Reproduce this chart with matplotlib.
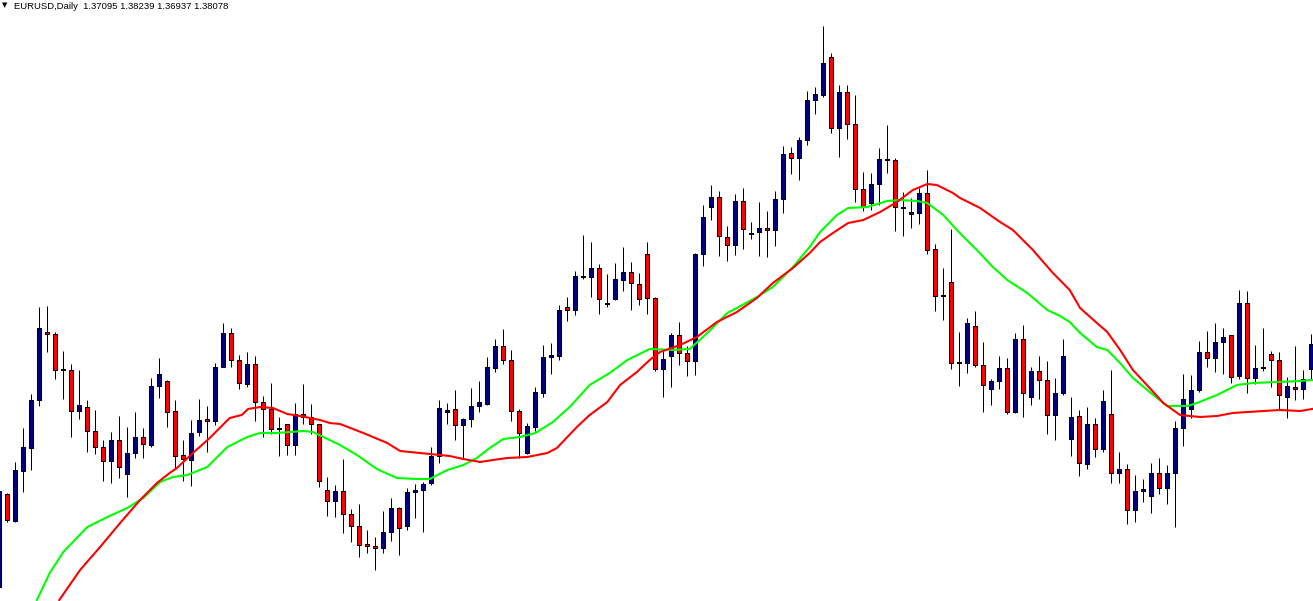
import numpy as np
import matplotlib
matplotlib.use("Agg")
import matplotlib.pyplot as plt

# daily candles, values (height units above the bottom edge)
opens = [14,107,80,130,153,201,269,267,231,231,190,194,170,154,140,161,127,148,164,156,
         215,220,190,146,141,169,182,180,234,268,241,217,237,199,192,172,177,156,187,184,
         177,111,100,110,87,75,57,55,53,69,93,75,109,111,118,145,189,192,176,182,
         195,197,233,255,241,190,148,174,208,244,245,294,291,324,324,333,297,302,321,329,
         317,347,303,232,245,266,248,240,347,394,404,364,356,400,367,369,373,371,402,448,
         443,461,501,506,544,473,509,477,412,398,417,441,441,393,387,388,408,352,305,319,
         238,238,275,236,212,220,233,189,262,204,230,221,186,208,162,185,137,177,152,187,
         128,132,91,110,105,128,113,128,173,192,211,249,243,259,266,225,298,223,233,247,
         241,204,214,212,232]
highs = [111,108,139,173,207,294,295,269,250,237,231,201,191,161,169,185,174,189,173,223,
         243,221,201,161,181,202,195,238,278,273,246,249,245,205,218,184,177,198,217,197,
         177,124,116,142,92,97,71,64,90,103,94,113,117,119,154,201,198,211,183,213,
         220,244,262,272,251,192,178,214,256,258,296,304,330,366,359,337,327,338,354,339,
         328,359,304,252,268,279,255,348,396,416,410,375,407,413,379,399,390,410,455,454,
         464,510,514,575,548,516,516,506,429,428,453,476,443,409,403,413,431,357,333,372,
         269,283,290,259,222,245,243,268,276,234,245,240,223,262,204,191,194,183,211,231,
         149,137,126,122,138,143,136,180,227,226,260,270,278,273,266,311,310,256,273,250,
         249,224,255,231,267]
lows = [14,79,79,109,131,195,249,222,202,164,182,149,147,120,118,123,104,143,143,154,
        203,174,132,120,115,165,149,176,234,234,212,214,180,164,167,145,146,146,177,167,
        114,85,84,68,59,44,48,31,48,60,46,71,83,69,116,138,177,161,142,174,
        189,196,229,237,180,143,147,170,204,227,241,280,286,322,304,287,294,301,310,291,
        296,287,230,204,214,236,225,226,335,381,345,340,346,352,362,345,344,355,388,427,
        421,456,487,504,468,444,462,399,390,391,396,428,370,365,373,377,347,290,281,232,
        215,228,234,189,196,212,187,188,184,196,202,167,161,206,145,125,132,144,149,118,
        118,77,79,99,88,107,97,74,155,183,209,234,229,227,218,222,208,217,230,214,
        192,183,201,202,222]
closes = [110,81,131,154,201,273,267,231,231,190,196,170,154,140,161,134,148,164,157,215,
          227,189,145,142,168,181,180,234,268,241,218,237,199,192,172,172,156,187,184,177,
          120,100,110,87,75,56,55,53,69,93,73,109,111,117,145,193,191,176,182,195,
          199,234,255,241,190,168,175,209,244,246,291,291,325,324,333,302,297,322,329,318,
          302,303,232,242,266,248,240,347,384,404,365,356,400,372,367,373,371,402,447,443,
          461,501,507,538,473,509,477,412,394,417,442,441,394,393,389,408,351,305,305,238,
          238,278,236,216,220,233,189,262,208,230,221,186,208,245,184,138,177,152,200,128,
          132,91,110,112,128,113,128,173,202,211,249,243,259,264,224,298,223,233,233,241,
          206,215,212,222,257]

# fast MA (green), read at bar positions
fast_bar = [4.7,6.3,8.0,11.0,13.5,16.0,18.0,20.1,21.7,23.5,26.0,28.5,31.0,32.6,34.7,38.0,39.2,
            41.3,42.6,44.7,47.2,49.7,52.2,53.8,56.0,58.0,59.7,61.3,63.0,65.1,67.0,69.2,71.3,
            73.8,76.3,78.5,81.3,84.2,86.3,88.5,91.0,92.2,94.7,96.7,99.2,101.3,102.6,104.7,
            106.1,108.5,111.0,112.6,114.7,116.0,118.0,119.7,121.3,122.2,124.2,126.0,128.5,
            131.0,132.6,133.8,135.1,137.2,138.5,140.1,141.7,143.8,146.0,148.5,149.7,152.2,
            154.7,156.7,159.7,162.6,164.1]
fast_ma = [1,28,49,74,84,93,103,119,124,126,134,154,164,168,168,170,169,
           161,156,146,132,123,122,122,131,136,143,153,162,164,168,179,194,
           216,228,241,252,251,252,268,288,293,304,314,334,354,369,386,
           393,394,400,401,400,398,386,371,358,351,334,321,308,
           291,285,279,268,254,251,238,223,209,195,195,198,206,
           216,218,219,220,221]

# slow MA (red)
slow_bar = [7.5,10.1,12.6,15.1,17.6,19.7,21.3,22.2,24.2,26.3,28.8,30.3,31.1,32.6,34.2,36.0,37.6,
            40.1,41.3,42.6,45.5,48.5,50.1,52.6,56.3,58.0,60.1,61.7,63.5,66.0,68.5,69.7,72.2,
            73.8,76.0,77.6,79.7,81.3,82.6,85.1,87.2,89.7,92.2,94.7,96.7,99.2,101.3,102.6,
            104.2,106.1,108.0,110.1,112.2,114.2,116.0,117.2,119.2,120.1,122.6,125.1,126.7,
            129.2,131.7,133.8,135.1,137.2,138.5,140.1,141.7,143.8,145.5,147.6,150.1,152.2,
            154.2,156.0,160.1,162.6,164.1]
slow_ma = [1,31,54,78,101,118,128,133,148,163,183,186,192,194,193,187,185,
           181,178,177,168,158,150,148,145,142,139,141,143,144,148,153,174,
           186,199,216,229,241,249,256,264,279,289,303,318,333,348,359,
           368,378,381,389,399,411,417,416,408,403,393,379,371,
           351,328,311,293,278,269,251,231,213,198,186,184,185,
           188,189,191,190,192]

title = "EURUSD,Daily  1.37095 1.38239 1.36937 1.38078"

W, H = 1313, 601
bar_px = 8
x_shift = -0.7  # pixel centre of bar 0

fig = plt.figure(figsize=(W / 100, H / 100), dpi=100)
ax = fig.add_axes([0, 0, 1, 1])
ax.set_axis_off()
ax.set_xlim((0 - x_shift) / bar_px, (W - x_shift) / bar_px)
ax.set_ylim(0, H)

o = np.array(opens); hi = np.array(highs); lo = np.array(lows); c = np.array(closes)
x = np.arange(len(o))

# wicks
ax.vlines(x, lo, hi, color="black", lw=0.72, zorder=2)

up = c > o
dn = c < o
doji = c == o
ax.bar(x[up], (c - o)[up], bottom=o[up], width=0.5, color="#000080",
       edgecolor="black", linewidth=0.75, zorder=3)
ax.bar(x[dn], (c - o)[dn], bottom=o[dn], width=0.5, color="#ff0000",
       edgecolor="black", linewidth=0.75, zorder=3)
ax.hlines(o[doji], x[doji] - 0.3, x[doji] + 0.3, color="black", lw=1.4, zorder=3)

ax.plot(fast_bar, fast_ma, color="#00ff00", lw=1.5, zorder=4)
ax.plot(slow_bar, slow_ma, color="#ff0000", lw=1.5, zorder=4)

fig.text(2 / W, 1 - 2 / H, "\u25bc", fontsize=5, va="top", ha="left", family="DejaVu Sans")
fig.text(14 / W, 1 - 2 / H, title, fontsize=6.8, va="top", ha="left", family="Liberation Sans")

fig.savefig("out.png", dpi=100, facecolor="white")
